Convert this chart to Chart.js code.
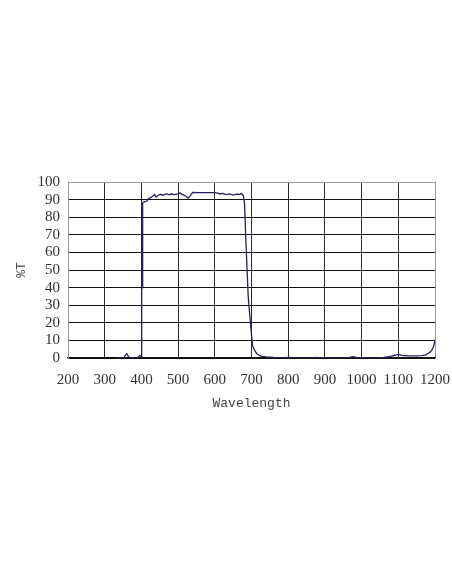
<!DOCTYPE html>
<html>
<head>
<meta charset="utf-8">
<script src="https://cdn.jsdelivr.net/npm/chart.js@4/dist/chart.umd.min.js"></script>
<style>
    html, body { margin: 0; padding: 0; background: #ffffff; }
    #wrap { width: 452px; height: 584px; position: relative; }
</style>
</head>
<body>
<div id="wrap"><canvas id="chart"></canvas></div>
<script>
// wavelength (nm) and transmittance (%T)
var wavelengths = [330, 345, 352, 356, 360, 364, 368, 380, 390, 396, 399, 400.5, 401, 402, 403.5,
    408, 412, 416, 420, 424, 428, 432, 436, 440, 446, 452, 458, 464, 470, 476, 482, 488, 494, 500,
    505, 510, 516, 522, 528, 534, 540, 560, 580, 600, 608, 614, 622, 630, 640, 650, 660, 669, 673,
    678, 681, 684, 688, 691, 695, 698, 700.5, 703, 708, 715, 725, 740, 760, 790, 800, 820, 850,
    870, 878, 886, 900, 950, 968, 977, 985, 1000, 1040, 1060, 1075, 1090, 1100, 1110, 1130, 1150,
    1165, 1175, 1182, 1188, 1192, 1196, 1200];
var transmittance = [0, 0, 0, 1.5, 2.5, 1, 0, 0, 0.3, 1.5, 1, 10, 75, 40, 88,
    88.8, 88.8, 89.5, 90.7, 91, 91.5, 92, 93, 91.5, 92.5, 93, 92.5, 93, 93.2, 92.7, 93.3, 92.8, 93, 93.2,
    93.9, 93, 92.5, 91.8, 90.8, 92.5, 94.1, 94, 94, 94, 93.7, 93.2, 93.5, 92.8, 93.2, 92.6, 93.1, 93, 93.5,
    92, 88, 70, 50, 35, 25, 18, 12, 7, 4.5, 2.3, 1.1, 0.6, 0.3, 0.2, 0.3, 0.1, 0,
    0, 0.4, 0, 0, 0, 0.3, 0.8, 0.3, 0, 0, 0.3, 0.8, 1.5, 2, 1.5, 1.2, 1.2,
    1.4, 1.8, 2.7, 3.6, 4.8, 6.5, 10];
var x_ticks = [200, 300, 400, 500, 600, 700, 800, 900, 1000, 1100, 1200];
var y_ticks = [0, 10, 20, 30, 40, 50, 60, 70, 80, 90, 100];

var points = [];
for (var i = 0; i < wavelengths.length; i++) {
    points.push({ x: wavelengths[i], y: transmittance[i] });
}

var tick_font = { family: "'Liberation Serif', serif", size: 15 };
var mono_font = { family: "'Liberation Mono', monospace", size: 13 };

new Chart(document.getElementById('chart'), {
    type: 'line',
    data: {
        datasets: [{
            data: points,
            borderColor: '#23235c',
            borderWidth: 1.3,
            pointRadius: 0,
            tension: 0,
            fill: false
        }]
    },
    options: {
        responsive: true,
        maintainAspectRatio: false,
        animation: false,
        layout: { padding: { top: 182, right: 17, bottom: 173, left: 0 } },
        plugins: {
            legend: { display: false },
            tooltip: { enabled: false }
        },
        scales: {
            x: {
                type: 'linear',
                min: 200,
                max: 1200,
                afterBuildTicks: function (scale) {
                    scale.ticks = x_ticks.map(function (v) { return { value: v }; });
                },
                afterFit: function (scale) {
                    scale.height = 584 - 358 - 173;
                    scale.paddingLeft = 0;
                    scale.paddingRight = 0;
                },
                ticks: {
                    color: '#333333', font: tick_font, padding: 13, maxRotation: 0, autoSkip: false,
                    callback: function (v) { return String(v); }
                },
                grid: {
                    drawTicks: false,
                    lineWidth: 1,
                    color: function (ctx) {
                        if (ctx.tick && (ctx.tick.value == 200 || ctx.tick.value == 1200)) return '#9a9a9a';
                        return '#2a2a2a';
                    }
                },
                border: { color: '#111111', width: 1.2 },
                title: { display: true, text: 'Wavelength', color: '#444444', font: mono_font, padding: 0 }
            },
            y: {
                min: 0,
                max: 100,
                afterBuildTicks: function (scale) {
                    scale.ticks = y_ticks.map(function (v) { return { value: v }; });
                },
                afterFit: function (scale) {
                    scale.width = 68;
                    scale.paddingTop = 0;
                    scale.paddingBottom = 0;
                },
                ticks: {
                    color: '#333333', font: tick_font, padding: 8, autoSkip: false,
                    callback: function (v) { return String(v); }
                },
                grid: {
                    drawTicks: false,
                    lineWidth: 1,
                    color: function (ctx) {
                        if (ctx.tick && ctx.tick.value == 100) return '#9a9a9a';
                        return '#111111';
                    }
                },
                border: { color: '#9a9a9a', width: 1 },
                title: { display: true, text: '%T', color: '#444444', font: mono_font, padding: { top: 14, bottom: 0 } }
            }
        }
    }
});
</script>
</body>
</html>
